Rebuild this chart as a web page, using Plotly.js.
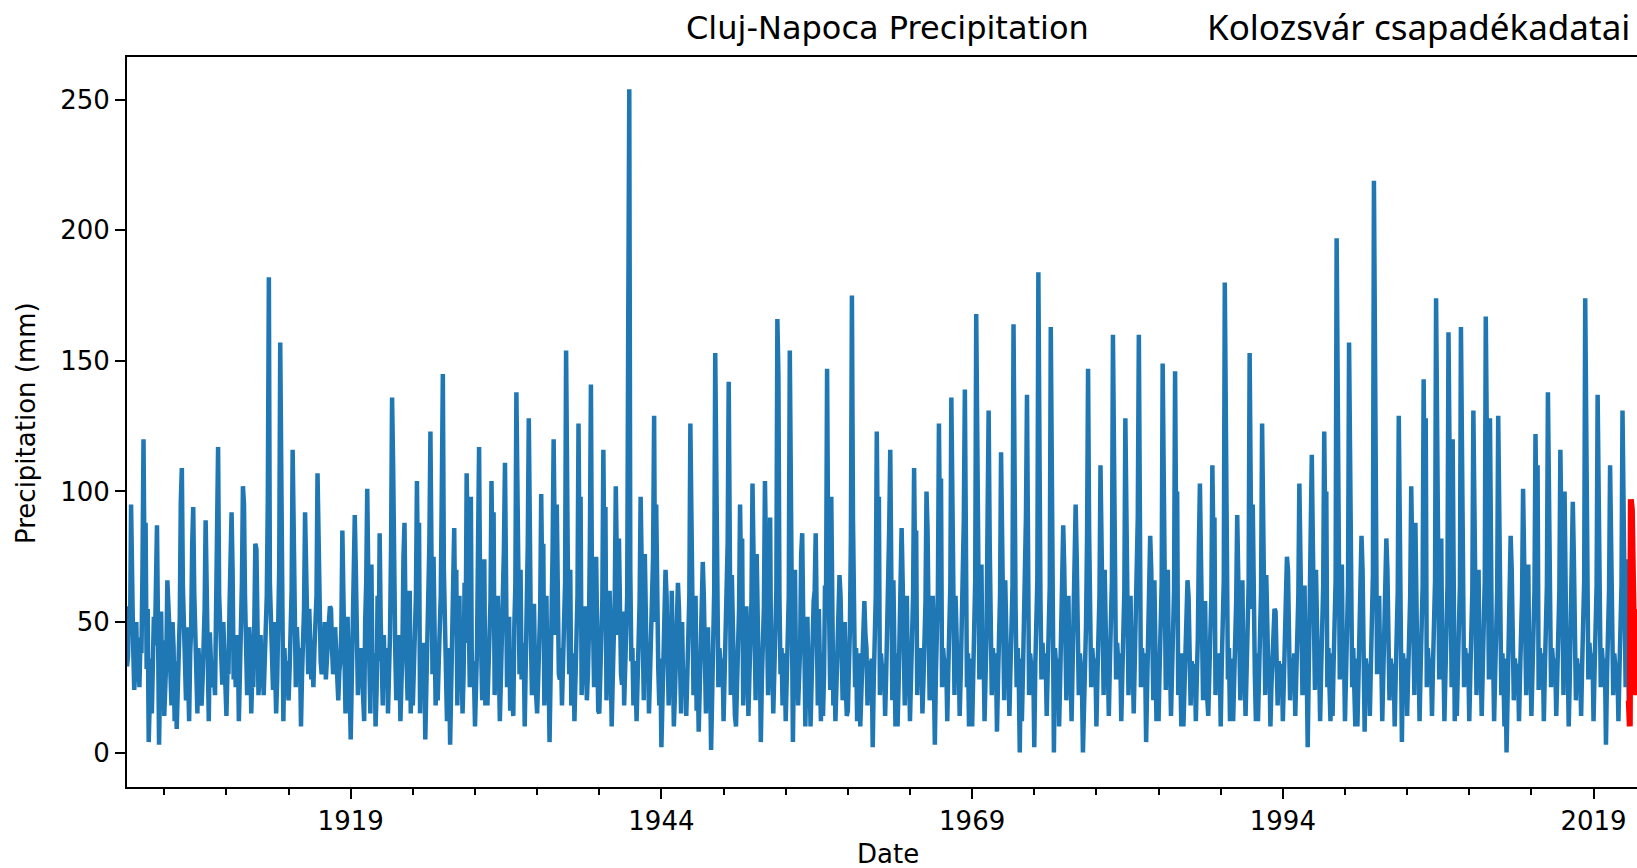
<!DOCTYPE html>
<html>
<head>
<meta charset="utf-8">
<script src="https://cdn.plot.ly/plotly-3.0.1.min.js"></script>
<style>
html,body{margin:0;padding:0;background:#fff;overflow:hidden;}
#chart{width:1637px;height:868px;}
</style>
</head>
<body>
<div id="chart"></div>
<script>
// Monthly precipitation (mm), Cluj-Napoca, starting January 1901
const startYear = 1901;
const monthlyPrecip = [
33,37,56,45,95,52,41,24,31,50,28,40,
25,44,38,70,120,68,88,32,55,4,16,36,
15,30,52,41,75,87,48,3,28,54,24,43,
14,22,36,66,58,47,30,18,50,40,12,35,
9,30,44,52,96,109,64,42,31,20,48,36,
12,38,47,80,94,61,48,25,15,40,30,26,
18,28,40,55,89,70,38,12,46,30,25,32,
30,22,48,70,117,60,45,34,26,50,40,28,
14,32,30,55,72,92,70,28,40,25,35,45,
12,26,44,65,102,95,60,38,22,30,48,40,
15,30,25,50,80,78,52,22,30,45,28,35,
22,35,40,60,97,182,65,45,30,24,50,38,
15,28,42,70,157,90,55,12,40,30,35,28,
20,32,48,62,116,75,60,25,48,35,30,40,
10,30,38,55,92,60,45,30,55,40,28,35,
25,40,52,60,107,80,55,35,30,45,40,50,
28,38,45,50,56,55,40,30,35,48,38,30,
20,31,35,47,85,60,38,15,28,52,32,25,
5,30,42,62,91,70,45,22,35,28,40,30,
20,12,50,65,101,55,35,15,72,30,26,38,
10,24,60,35,84,50,30,18,45,25,30,40,
15,30,45,78,136,110,60,40,20,25,45,35,
12,28,40,75,88,50,25,20,38,62,15,36,
18,30,44,60,104,62,88,15,40,32,28,42,
5,25,40,55,80,123,50,30,75,35,18,30,
20,35,48,60,100,145,70,45,30,12,40,35,
3,28,42,58,86,45,70,18,35,60,25,38,
15,30,65,42,107,70,50,25,98,28,35,30,
10,25,40,80,117,60,45,20,35,74,18,40,
18,32,46,58,104,66,92,22,40,35,60,36,
12,28,42,60,78,111,48,25,36,52,16,38,
20,14,48,64,138,90,55,30,70,28,35,42,
10,30,44,80,128,52,45,22,38,57,30,16,
15,28,40,55,99,62,80,18,35,60,25,34,
4,26,42,78,120,70,45,95,38,30,28,40,
18,32,46,65,154,85,55,30,70,18,35,38,
12,28,44,60,126,72,98,22,36,30,56,42,
20,30,45,82,141,60,50,25,40,75,30,16,
15,26,40,58,116,70,94,20,35,28,62,38,
10,28,42,60,102,66,45,82,38,30,26,54,
18,30,45,60,163,254,70,35,40,18,35,32,
12,28,42,58,98,64,40,20,76,55,28,38,
15,30,46,60,75,129,50,95,40,32,18,36,
2,25,38,55,70,60,40,18,35,28,62,34,
10,22,35,50,65,55,36,15,50,25,28,32,
14,28,42,60,126,80,48,22,38,60,16,35,
8,24,38,52,73,60,40,15,32,48,25,30,
1,28,45,62,153,90,55,25,40,30,28,36,
12,30,44,60,80,142,50,22,68,32,30,14,
10,26,40,55,95,65,82,18,35,28,56,38,
14,30,42,58,103,70,45,20,76,30,28,40,
4,28,40,56,104,72,44,22,38,90,26,36,
15,32,46,62,166,144,60,30,40,18,35,38,
12,30,44,60,154,85,50,4,38,70,28,36,
18,28,40,76,84,50,45,10,36,52,26,34,
10,36,42,58,62,84,40,18,55,28,12,38,
14,30,64,60,147,80,50,24,98,32,18,36,
12,26,40,55,68,60,42,20,35,50,26,14,
16,30,46,82,175,90,55,25,40,12,28,38,
10,26,40,52,58,45,40,18,35,28,30,36,
2,28,42,60,123,75,98,22,38,30,26,34,
14,30,44,60,86,116,45,20,66,32,10,38,
10,26,40,56,86,65,42,18,35,60,26,36,
12,30,44,60,109,70,85,22,38,30,28,40,
15,28,42,58,100,85,50,20,36,32,60,38,
3,30,46,62,126,80,105,25,40,30,28,36,
12,32,48,64,136,85,52,22,60,32,30,38,
14,30,45,62,89,139,50,25,38,10,28,36,
10,34,48,66,168,100,60,28,42,72,30,40,
12,30,46,92,131,80,50,22,40,30,28,38,
8,28,44,60,115,75,48,20,66,30,26,34,
14,32,48,64,164,90,55,25,40,30,0,36,
12,30,46,62,90,137,50,22,38,32,28,35,
2,34,50,66,184,100,60,28,42,32,30,38,
14,32,48,64,163,90,55,0,40,30,28,36,
10,28,42,58,87,70,45,20,36,60,26,34,
12,30,44,60,95,75,48,22,38,30,28,0,
14,32,48,82,147,85,52,25,40,30,28,36,
10,30,44,60,110,80,48,22,70,32,26,34,
14,34,50,66,160,95,58,28,42,30,28,38,
12,30,46,62,128,80,50,22,38,60,26,36,
15,32,48,64,90,160,55,25,40,32,28,38,
4,26,42,58,83,70,45,20,66,30,12,34,
12,32,48,64,149,88,52,24,40,70,28,36,
14,30,46,62,146,85,100,22,38,32,10,38,
10,26,40,55,66,60,42,18,35,28,26,34,
12,30,44,80,103,75,48,20,38,58,28,14,
14,30,46,60,110,78,90,22,38,32,28,38,
10,34,50,66,180,131,60,28,40,12,28,36,
12,28,42,58,91,70,45,20,36,66,26,34,
14,32,48,64,153,90,55,95,40,30,12,38,
12,30,46,62,126,80,50,22,68,32,30,36,
10,26,40,52,55,54,42,18,35,28,26,34,
12,28,42,58,75,70,45,20,36,30,28,38,
14,30,44,60,103,80,48,22,38,64,26,36,
2,30,46,62,114,80,50,24,70,32,28,36,
12,32,48,64,123,85,100,25,40,30,12,38,
14,34,50,66,197,110,62,28,42,72,30,40,
12,32,48,64,157,95,55,25,40,30,10,36,
10,28,42,58,83,70,45,8,36,30,26,34,
14,34,52,68,219,120,65,30,42,60,30,38,
12,28,42,58,82,70,45,20,36,30,28,34,
10,30,46,62,129,80,50,4,38,30,26,36,
14,30,44,60,102,80,48,22,88,32,28,38,
12,32,48,64,143,90,128,25,40,30,28,36,
14,34,50,66,174,100,60,28,42,82,30,38,
12,32,48,64,161,95,55,25,120,30,12,36,
14,32,48,64,163,95,55,25,40,32,30,38,
12,30,46,62,131,85,50,22,38,70,28,36,
14,34,50,66,167,100,60,28,128,32,30,38,
12,30,46,62,129,80,50,22,38,30,10,36,
0,26,40,56,83,70,45,20,36,30,26,34,
12,30,44,60,101,80,48,22,38,72,28,36,
14,30,46,62,122,85,110,24,40,30,28,38,
12,32,48,64,138,90,55,25,40,30,28,36,
14,30,46,62,116,80,50,22,100,32,30,38,
10,28,44,60,96,75,48,20,36,30,26,34,
14,34,50,66,174,100,60,28,42,32,30,38,
12,32,48,64,137,90,55,25,40,30,28,36,
3,30,46,62,110,80,50,22,38,30,28,34,
12,32,48,64,131,90,55,25,74,30,20
];
// Highlighted (red) segment, starting November 2021
const redStartYear = 2021, redStartMonth = 11;
const redPrecip = [20,10,97,93,70,40,22,30,55,35];

const yTicks = [0,50,100,150,200,250];
const titleMain = "Cluj-Napoca Precipitation";
const titleRight = "Kolozsvár csapadékadatai";

function monthDates(y0, m0, n){
  const out = [];
  for(let i=0;i<n;i++){
    const t = (m0-1)+i;
    const y = y0 + Math.floor(t/12);
    const m = (t%12)+1;
    out.push(y + "-" + (m<10?"0":"") + m + "-01");
  }
  return out;
}

const blue = {
  x: monthDates(startYear, 1, monthlyPrecip.length),
  y: monthlyPrecip,
  type: "scatter", mode: "lines",
  line: {color: "#1f77b4", width: 4.5},
  hoverinfo: "skip"
};
const red = {
  x: monthDates(redStartYear, redStartMonth, redPrecip.length),
  y: redPrecip,
  type: "scatter", mode: "lines",
  line: {color: "#ff0000", width: 6},
  hoverinfo: "skip"
};

const tickFont = {family: "DejaVu Sans", size: 26, color: "#000"};
const layout = {
  width: 1637, height: 868,
  margin: {l: 127, r: 0, t: 57, b: 81},
  paper_bgcolor: "#fff", plot_bgcolor: "#fff",
  showlegend: false,
  xaxis: {
    type: "date",
    range: ["1901-01-01", "2022-07-01"],
    tick0: "1919-01-01", dtick: "M300", tickformat: "%Y",
    ticks: "outside", ticklen: 10, tickwidth: 2, tickcolor: "#000",
    minor: {tick0: "1904-01-01", dtick: "M60", ticks: "outside", ticklen: 6, tickwidth: 2, tickcolor: "#000", showgrid: false},
    showline: true, linewidth: 2, linecolor: "#000", mirror: true,
    showgrid: false, zeroline: false,
    tickfont: tickFont
  },
  yaxis: {
    range: [-13.2, 266.4],
    tickvals: yTicks,
    ticks: "outside", ticklen: 10, tickwidth: 2, tickcolor: "#000",
    showline: true, linewidth: 2, linecolor: "#000", mirror: false,
    showgrid: false, zeroline: false,
    tickfont: tickFont
  },
  annotations: [
    {text: titleMain, xref: "paper", yref: "paper", x: (887.5-127)/1510, y: 1, yanchor: "bottom", xanchor: "center",
     yshift: 8, showarrow: false, font: {family: "DejaVu Sans", size: 32, color: "#000"}},
    {text: titleRight, xref: "paper", yref: "paper", x: (1632-127)/1510, y: 1, yanchor: "bottom", xanchor: "right",
     yshift: 5, showarrow: false, font: {family: "Noto Sans", size: 35, color: "#000"}},
    {text: "Precipitation (mm)", xref: "paper", yref: "paper", x: 0, xshift: -101, y: (787.3-423)/730.6, textangle: -90,
     xanchor: "center", yanchor: "middle", showarrow: false, font: {family: "DejaVu Sans", size: 26, color: "#000"}},
    {text: "Date", xref: "paper", yref: "paper", x: (887.5-127)/1510, y: 0, yshift: -67, xanchor: "center", yanchor: "middle",
     showarrow: false, font: {family: "DejaVu Sans", size: 26, color: "#000"}}
  ]
};

Plotly.newPlot("chart", [blue, red], layout, {displayModeBar: false, staticPlot: true});
</script>
</body>
</html>
